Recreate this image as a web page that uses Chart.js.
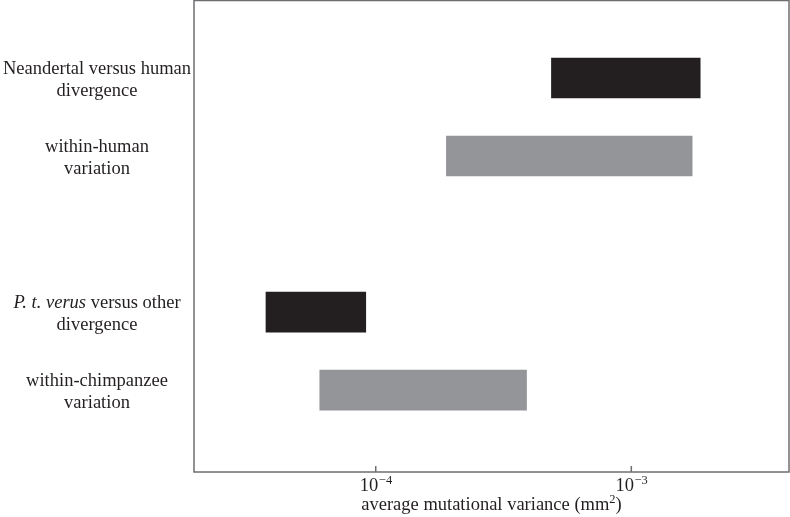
<!DOCTYPE html>
<html>
<head>
<meta charset="utf-8">
<script src="https://cdn.jsdelivr.net/npm/chart.js@4"></script>
<style>
  html, body { margin: 0; padding: 0; background: #fff; }
  canvas { display: block; }
</style>
</head>
<body>
<canvas id="ranges" width="790" height="517"></canvas>
<script>
// categories top to bottom, empty slots keep the spacing
const categories = ['', 'Neandertal versus human divergence', 'within-human variation', '',
  'P. t. verus versus other divergence', 'within-chimpanzee variation', ''];
const lowValues  = [null, 4.87e-4, 1.89e-4, null, 3.72e-5, 6.04e-5, null];
const highValues = [null, 1.86e-3, 1.73e-3, null, 9.14e-5, 3.89e-4, null];
const kinds = ['', 'divergence', 'variation', '', 'divergence', 'variation', ''];
const tickValues = [1e-4, 1e-3];
const tickExponents = ['\u22124', '\u22123'];

// label lines, segments marked italic where needed
const labelLines = [
  [],
  [[{t: 'Neandertal versus human'}], [{t: 'divergence'}]],
  [[{t: 'within-human'}], [{t: 'variation'}]],
  [],
  [[{t: 'P. t. verus', i: true}, {t: ' versus other'}], [{t: 'divergence'}]],
  [[{t: 'within-chimpanzee'}], [{t: 'variation'}]],
  []
];

const colors = { divergence: '#231f20', variation: '#939598' };
const FONT = '"Liberation Serif", "Times New Roman", serif';

const decorate = {
  id: 'decorate',
  afterDraw(chart) {
    const ctx = chart.ctx;
    const area = chart.chartArea;
    const xs = chart.scales.x;
    const ys = chart.scales.y;
    ctx.save();

    // frame
    ctx.strokeStyle = '#6d6e71';
    ctx.lineWidth = 1.5;
    ctx.strokeRect(area.left, area.top + 0.5, area.right - area.left, area.bottom - area.top - 0.5);

    // inward tick marks + labels
    ctx.fillStyle = '#231f20';
    xs.ticks.forEach((tk, k) => {
      const x = xs.getPixelForValue(tk.value);
      ctx.beginPath();
      ctx.moveTo(x, area.bottom);
      ctx.lineTo(x, area.bottom - 6);
      ctx.stroke();

      ctx.font = '18.5px ' + FONT;
      const wBase = ctx.measureText('10').width;
      ctx.font = '12.5px ' + FONT;
      const wExp = ctx.measureText(tickExponents[k]).width;
      const x0 = x - (wBase + wExp) / 2;
      ctx.textBaseline = 'alphabetic';
      ctx.textAlign = 'left';
      ctx.font = '18.5px ' + FONT;
      ctx.fillText('10', x0, area.bottom + 19);
      ctx.font = '12.5px ' + FONT;
      ctx.fillText(tickExponents[k], x0 + wBase + 0.5, area.bottom + 12);
    });

    // axis title
    const tMain = 'average mutational variance (mm';
    ctx.font = '18.5px ' + FONT;
    const w1 = ctx.measureText(tMain).width;
    const w3 = ctx.measureText(')').width;
    ctx.font = '12.5px ' + FONT;
    const w2 = ctx.measureText('2').width;
    const cx = (area.left + area.right) / 2;
    let tx = cx - (w1 + w2 + w3) / 2;
    ctx.font = '18.5px ' + FONT;
    ctx.fillText(tMain, tx, area.bottom + 38);
    ctx.font = '12.5px ' + FONT;
    ctx.fillText('2', tx + w1, area.bottom + 31);
    ctx.font = '18.5px ' + FONT;
    ctx.fillText(')', tx + w1 + w2, area.bottom + 38);

    // category labels
    const labelCenter = area.left / 2;
    labelLines.forEach((lines, idx) => {
      if (!lines.length) return;
      const yc = ys.getPixelForValue(idx);
      lines.forEach((segs, li) => {
        const widths = segs.map(s => {
          ctx.font = (s.i ? 'italic ' : '') + '18.5px ' + FONT;
          return ctx.measureText(s.t).width;
        });
        const total = widths.reduce((a, b) => a + b, 0);
        let lx = labelCenter - total / 2;
        const by = yc - 4 + li * 22;
        segs.forEach((s, si) => {
          ctx.font = (s.i ? 'italic ' : '') + '18.5px ' + FONT;
          ctx.fillText(s.t, lx, by);
          lx += widths[si];
        });
      });
    });
    ctx.restore();
  }
};

new Chart(document.getElementById('ranges'), {
  type: 'bar',
  data: {
    labels: categories,
    datasets: [{
      data: lowValues.map((lo, i) => lo === null ? null : [lo, highValues[i]]),
      backgroundColor: kinds.map(k => colors[k] || 'transparent'),
      borderWidth: 0,
      barThickness: 40
    }]
  },
  options: {
    indexAxis: 'y',
    responsive: false,
    animation: false,
    layout: { padding: { left: 194, right: 1, top: 0, bottom: 45 } },
    plugins: { legend: { display: false }, tooltip: { enabled: false } },
    scales: {
      x: {
        type: 'logarithmic',
        display: false,
        min: 1.945e-5,
        max: 4.14e-3,
        afterBuildTicks: s => { s.ticks = tickValues.map(v => ({ value: v })); }
      },
      y: {
        type: 'category',
        display: false,
        offset: false,
        // a little extra room below the last slot, as in the original
        afterBuildTicks: s => { s._valueRange = categories.length - 1 + 0.05; }
      }
    }
  },
  plugins: [decorate]
});
</script>
</body>
</html>
